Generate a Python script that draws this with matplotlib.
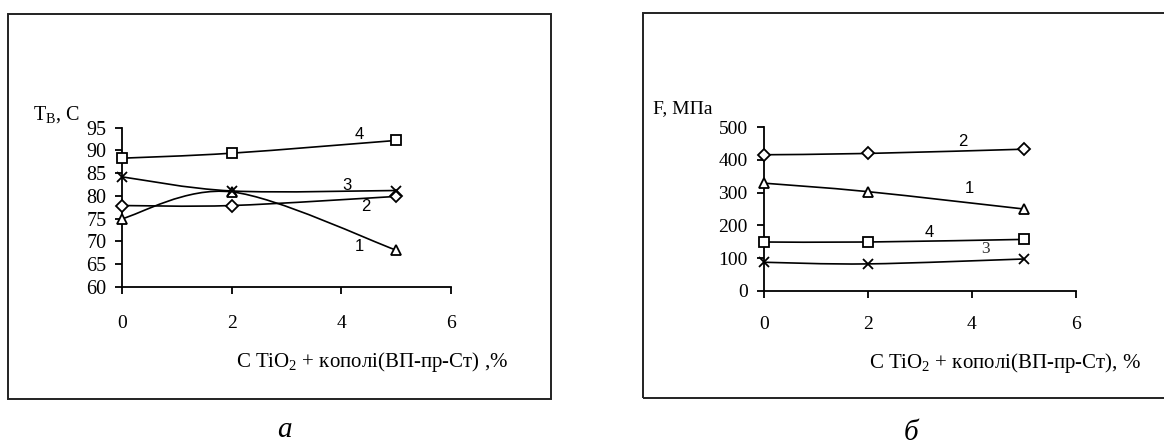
import numpy as np
import matplotlib
matplotlib.use('Agg')
import matplotlib.pyplot as plt
from matplotlib.path import Path
from matplotlib.patches import PathPatch, Rectangle

plt.rcParams['font.family'] = ['Liberation Serif', 'DejaVu Serif']
plt.rcParams['mathtext.fontset'] = 'custom'
plt.rcParams['mathtext.rm'] = 'Liberation Serif'
plt.rcParams['mathtext.it'] = 'Liberation Serif:italic'

# data
x_conc = [0, 2, 5]

# panel a: T_B, C
ta_1 = [75.0, 80.9, 68.1]
ta_2 = [77.9, 77.9, 79.9]
ta_3 = [84.2, 81.1, 81.2]
ta_4 = [88.3, 89.4, 92.2]

# panel b: F, MPa
fb_1 = [329, 303, 250]
fb_2 = [416, 420, 433]
fb_3 = [87, 82, 97]
fb_4 = [149, 149, 157]

x_ticks = [0, 2, 4, 6]
ya_ticks = [60, 65, 70, 75, 80, 85, 90, 95]
yb_ticks = [0, 100, 200, 300, 400, 500]

markers = {'1': '^', '2': 'D', '3': 'x', '4': 's'}
msizes = {'^': 7.5, 'D': 6.2, 'x': 7.5, 's': 7}


def smooth_path(xs, ys):
    # Excel-like smoothed line (cubic bezier through the points)
    pts = list(zip(xs, ys))
    n = len(pts)
    verts = [pts[0]]
    codes = [Path.MOVETO]
    for i in range(n - 1):
        p0 = pts[max(i - 1, 0)]
        p1 = pts[i]
        p2 = pts[i + 1]
        p3 = pts[min(i + 2, n - 1)]
        c1 = (p1[0] + (p2[0] - p0[0]) / 6, p1[1] + (p2[1] - p0[1]) / 6)
        c2 = (p2[0] - (p3[0] - p1[0]) / 6, p2[1] - (p3[1] - p1[1]) / 6)
        verts += [c1, c2, p2]
        codes += [Path.CURVE4] * 3
    return Path(verts, codes)


def draw_series(ax, ys, key):
    ax.add_patch(PathPatch(smooth_path(x_conc, ys), fill=False, edgecolor='black',
                           lw=1.2, zorder=2))
    mk = markers[key]
    ax.plot(x_conc, ys, linestyle='none', marker=mk, ms=msizes[mk], mfc='white',
            mec='black', mew=1.3, zorder=3, clip_on=False)


def style_axis(ax):
    ax.spines['top'].set_visible(False)
    ax.spines['right'].set_visible(False)
    for s in ['left', 'bottom']:
        ax.spines[s].set_linewidth(1.3)
    ax.patch.set_alpha(0)


fig = plt.figure(figsize=(11.64, 4.41), dpi=100)

# frames
fig.patches.append(Rectangle((8 / 1164, 1 - 399 / 441), 543 / 1164, 385 / 441,
                             transform=fig.transFigure, fill=False, lw=1.4,
                             edgecolor='#222222'))
fig.patches.append(Rectangle((643 / 1164, 1 - 398 / 441), 540 / 1164, 385 / 441,
                             transform=fig.transFigure, fill=False, lw=1.4,
                             edgecolor='#222222', clip_on=False))

# panel a
ax1 = fig.add_axes([122 / 1164, 1 - 287 / 441, 329 / 1164, 159.3 / 441])
for key, ys in zip(['1', '2', '3', '4'], [ta_1, ta_2, ta_3, ta_4]):
    draw_series(ax1, ys, key)
ax1.set_xlim(0, 6)
ax1.set_ylim(60, 95)
ax1.set_xticks(x_ticks)
ax1.set_yticks(ya_ticks)
ax1.tick_params(axis='y', direction='out', length=5, width=1.3, pad=6, labelsize=14.5)
ax1.tick_params(axis='x', direction='out', length=5, width=1.3, pad=15, labelsize=14)
style_axis(ax1)

lab_a = {'4': (4.32, 93.4), '3': (4.1, 82.2), '2': (4.45, 77.6), '1': (4.32, 68.8)}
for k, (lx, ly) in lab_a.items():
    ax1.text(lx, ly, k, ha='center', va='center', fontsize=12,
             family=['Liberation Sans', 'DejaVu Sans'])

fig.text(32.7 / 1164, 1 - 120 / 441, 'Т$_{\\mathrm{В}}$, С', fontsize=14.5, va='baseline')
fig.text(236 / 1164, 1 - 367 / 441, 'С TiO$_2$ + кополі(ВП-пр-Ст) ,%', fontsize=15,
         va='baseline')

# panel b
ax2 = fig.add_axes([764.3 / 1164, 1 - 290.7 / 441, 311.4 / 1164, 163.4 / 441])
for key, ys in zip(['1', '2', '3', '4'], [fb_1, fb_2, fb_3, fb_4]):
    draw_series(ax2, ys, key)
ax2.set_xlim(0, 6)
ax2.set_ylim(0, 500)
ax2.set_xticks(x_ticks)
ax2.set_yticks(yb_ticks)
ax2.tick_params(axis='y', direction='out', length=5, width=1.3, pad=7, labelsize=14)
ax2.tick_params(axis='x', direction='out', length=5, width=1.3, pad=13, labelsize=14)
style_axis(ax2)

lab_b = {'2': (3.83, 458), '1': (3.96, 313), '4': (3.17, 177)}
for k, (lx, ly) in lab_b.items():
    ax2.text(lx, ly, k, ha='center', va='center', fontsize=12,
             family=['Liberation Sans', 'DejaVu Sans'])
ax2.text(4.26, 127, '3', ha='center', va='center', fontsize=12.5, color='#333333')

fig.text(653 / 1164, 1 - 113 / 441, 'F, МПа', fontsize=14, va='baseline')
fig.text(869 / 1164, 1 - 368 / 441, 'С TiO$_2$ + кополі(ВП-пр-Ст), %', fontsize=15,
         va='baseline')

# captions
fig.text(284 / 1164, 1 - 437 / 441, 'а', fontsize=21, style='italic', ha='center',
         va='baseline')
fig.text(911 / 1164, 1 - 440 / 441, 'б', fontsize=21, style='italic', ha='center',
         va='baseline')

fig.savefig('out.png', dpi=100)
